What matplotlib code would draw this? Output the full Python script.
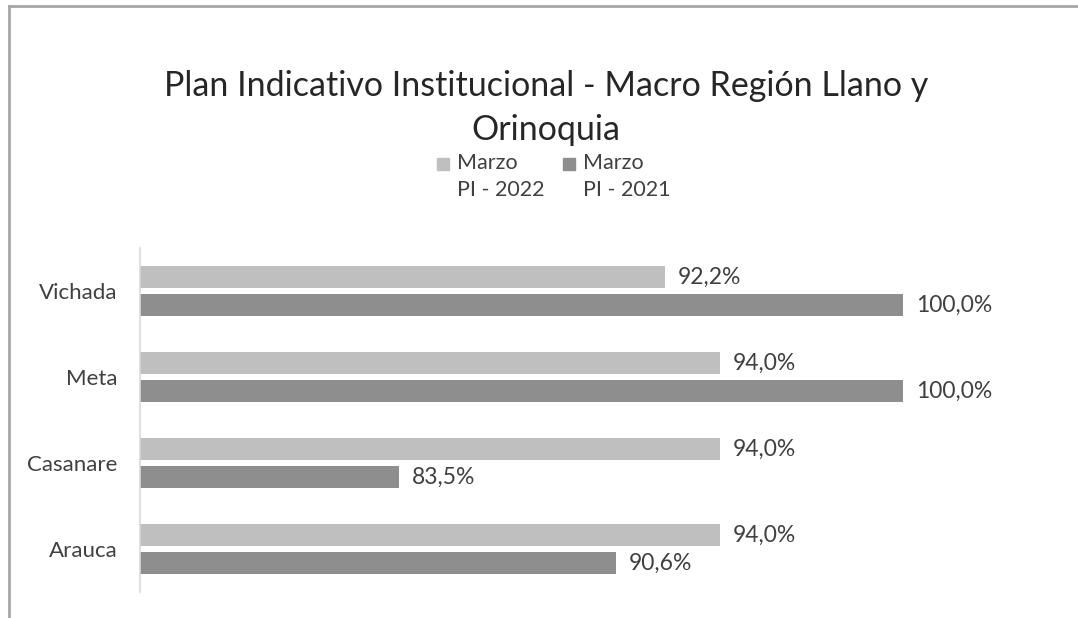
import numpy as np
import matplotlib.pyplot as plt
from matplotlib.lines import Line2D
from matplotlib.patches import Rectangle

# data
regions = ["Arauca", "Casanare", "Meta", "Vichada"]
pi_2022 = [94.0, 94.0, 94.0, 92.2]
pi_2021 = [90.6, 83.5, 100.0, 100.0]
series_names = ["Marzo\nPI - 2022", "Marzo\nPI - 2021"]

color_2022 = "#BFBFBF"
color_2021 = "#8E8E8E"
text_color = "#404040"

plt.rcParams["font.family"] = ["Lato", "DejaVu Sans"]

W, H = 1078, 618
fig = plt.figure(figsize=(W / 100, H / 100), dpi=100)
ax = fig.add_axes([140 / W, 26 / H, 763 / W, 344 / H])

y = np.arange(len(regions))
h = 0.267
off = 0.163
ax.barh(y + off, pi_2022, height=h, left=0, color=color_2022)
ax.barh(y - off, pi_2021, height=h, left=0, color=color_2021)


def fmt(v):
    return f"{v:.1f}%".replace(".", ",")


for yy, v in zip(y + off, pi_2022):
    ax.text(v + 0.42, yy, fmt(v), va="center", ha="left", fontsize=16.5, color=text_color)
for yy, v in zip(y - off, pi_2021):
    ax.text(v + 0.42, yy, fmt(v), va="center", ha="left", fontsize=16.5, color=text_color)

ax.set_xlim(75, 100)
ax.set_ylim(-0.5, len(regions) - 0.5)
ax.set_yticks(y)
ax.set_yticklabels(regions, fontsize=16, color=text_color)
ax.tick_params(axis="y", length=0, pad=16)
ax.set_xticks([])
for s in ["top", "right", "bottom"]:
    ax.spines[s].set_visible(False)
ax.spines["left"].set_color("#D9D9D9")
ax.spines["left"].set_linewidth(1.2)

fig.text(546 / W, 1 - 108 / H,
         "Plan Indicativo Institucional - Macro Región Llano y\nOrinoquia",
         ha="center", va="center", fontsize=24.5, color="#262626", linespacing=1.5)

# legend drawn by hand: square aligned with the first text line
legend_items = [(437, color_2022, series_names[0]), (563, color_2021, series_names[1])]
for x0, c, name in legend_items:
    fig.add_artist(Rectangle((x0 / W, 1 - 170 / H), 12 / W, 12 / H,
                             transform=fig.transFigure, color=c))
    fig.text((x0 + 20) / W, 1 - 153 / H, name, ha="left", va="top",
             fontsize=15.5, color=text_color, linespacing=1.43)

# chart area border (top and left edges visible)
fig.add_artist(Line2D([9 / W, 9 / W], [0, 1 - 6 / H], transform=fig.transFigure,
                      color="#A6A6A6", lw=2))
fig.add_artist(Line2D([9 / W, 1], [1 - 6 / H, 1 - 6 / H], transform=fig.transFigure,
                      color="#A6A6A6", lw=2))

fig.savefig("out.png", dpi=100)
